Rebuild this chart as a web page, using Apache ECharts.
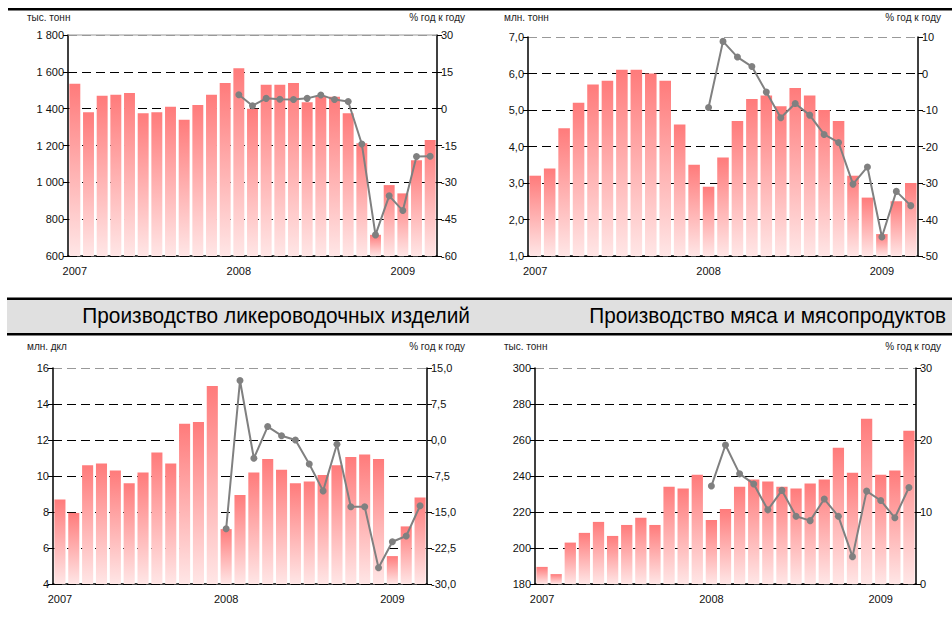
<!DOCTYPE html>
<html><head><meta charset="utf-8">
<script src="https://cdn.jsdelivr.net/npm/echarts@6/dist/echarts.min.js"></script>
<style>html,body{margin:0;padding:0;background:#fff}#c{width:952px;height:620px}</style>
</head><body><div id="c"></div>
<script>
// Categories: months Jan 2007 .. Mar 2009
const months = [];
for (const y of [2007, 2008, 2009]) for (let m = 1; m <= 12; m++) { if (y === 2009 && m > 3) break; months.push(y + '-' + (m < 10 ? '0' + m : m)); }
const yearTicks = ['2007', '2008', '2009'];

// Panel 1 (top-left): тыс. тонн, % год к году
const p1Bars = [1535,1380,1470,1475,1485,1375,1380,1410,1340,1420,1475,1540,
                1620,1400,1530,1530,1540,1435,1465,1465,1375,1212,715,985,940,1120,1230];
const p1Line = [null,null,null,null,null,null,null,null,null,null,null,null,
                5.7,1.2,4.2,3.8,3.7,4.2,5.6,3.7,2.9,-14.4,-51.4,-35.5,-41.5,-19.5,-19.4];
// Panel 2 (top-right): млн. тонн
const p2Bars = [3.2,3.4,4.5,5.2,5.7,5.8,6.1,6.1,6.0,5.8,4.6,3.5,
                2.9,3.7,4.7,5.3,5.4,5.1,5.6,5.4,5.0,4.7,3.2,2.6,1.6,2.5,3.0];
const p2Line = [null,null,null,null,null,null,null,null,null,null,null,null,
                -9.3,8.8,4.5,1.9,-5.1,-12.1,-8.2,-11.4,-16.7,-18.9,-30.3,-25.6,-44.8,-32.3,-36.2];
// Panel 3 (bottom-left): Производство ликероводочных изделий, млн. дкл
const p3Bars = [8.7,7.95,10.6,10.7,10.3,9.6,10.2,11.3,10.7,12.9,13.0,15.0,
                7.05,8.95,10.2,10.95,10.35,9.6,9.7,10.05,10.6,11.05,11.2,10.95,5.55,7.2,8.8];
const p3Line = [null,null,null,null,null,null,null,null,null,null,null,null,
                -18.5,12.4,-3.8,2.8,0.9,0.0,-5.0,-10.6,-0.9,-13.9,-13.9,-26.6,-21.2,-20.0,-13.7];
// Panel 4 (bottom-right): Производство мяса и мясопродуктов, тыс. тонн
const p4Bars = [189.5,185.5,203,208.4,214.5,206.7,212.8,216.8,212.8,234,233,240.7,
                215.6,221.7,234,238,237,234,233,235.8,238,255.7,241.8,271.8,240.7,243,265.1];
const p4Line = [null,null,null,null,null,null,null,null,null,null,null,null,
                13.6,19.3,15.3,13.9,10.3,13.0,9.4,8.8,11.8,9.4,3.8,12.9,11.6,9.2,13.4];

const titles = ['Производство ликероводочных изделий', 'Производство мяса и мясопродуктов'];
const unitsLeft = ['тыс. тонн', 'млн. тонн', 'млн. дкл', 'тыс. тонн'];
const unitRight = '% год к году';

const FONT = 'Liberation Sans, Arial, sans-serif';
const grids = [
  {left: 68, top: 35, width: 369, height: 221},
  {left: 528, top: 37, width: 390, height: 219},
  {left: 53, top: 368, width: 374, height: 216},
  {left: 535, top: 368, width: 381, height: 216}
];
const leftCfg = [
  {min: 600, max: 1800, interval: 200, fmt: v => String(v).replace(/\B(?=(\d{3})+(?!\d))/g, ' ')},
  {min: 1, max: 7, interval: 1, fmt: v => v.toFixed(1).replace('.', ',')},
  {min: 4, max: 16, interval: 2, fmt: v => String(v)},
  {min: 180, max: 300, interval: 20, fmt: v => String(v)}
];
const rightCfg = [
  {min: -60, max: 30, interval: 15, fmt: v => String(v)},
  {min: -50, max: 10, interval: 10, fmt: v => String(v)},
  {min: -30, max: 15, interval: 7.5, fmt: v => v.toFixed(1).replace('.', ',')},
  {min: 0, max: 30, interval: 10, fmt: v => String(v)}
];
const barsData = [p1Bars, p2Bars, p3Bars, p4Bars];
const lineData = [p1Line, p2Line, p3Line, p4Line];

const xAxis = [], yAxis = [], series = [];
const barColor = new echarts.graphic.LinearGradient(0, 0, 0, 1, [
  {offset: 0, color: '#ff7b7b'}, {offset: 1, color: '#ffe6e6'}]);
for (let i = 0; i < 4; i++) {
  xAxis.push({
    type: 'category', gridIndex: i, data: months, boundaryGap: true,
    axisLine: {onZero: false, lineStyle: {color: '#000', width: 1.5}},
    axisTick: {show: false},
    axisLabel: {
      interval: (idx) => idx % 12 === 0, margin: 9,
      color: '#111', fontSize: 11, fontFamily: FONT,
      formatter: (v, idx) => yearTicks[Math.floor(idx / 12)]
    },
    splitLine: {show: false}
  });
  const L = leftCfg[i], R = rightCfg[i];
  const nL = Math.round((L.max - L.min) / L.interval) + 1;
  const cols = [];
  for (let k = 0; k < nL; k++) cols.push(k === nL - 1 ? '#999' : '#000');
  yAxis.push({
    type: 'value', gridIndex: i, position: 'left', min: L.min, max: L.max, interval: L.interval,
    axisLine: {show: true, lineStyle: {color: '#000', width: 1.5}},
    axisTick: {show: true, length: 5, lineStyle: {color: '#000'}},
    axisLabel: {color: '#111', fontSize: 11, fontFamily: FONT, margin: 4, formatter: L.fmt},
    splitLine: {show: true, lineStyle: {color: cols, type: [9, 5], width: 1}}
  });
  yAxis.push({
    type: 'value', gridIndex: i, position: 'right', min: R.min, max: R.max, interval: R.interval,
    axisLine: {show: true, lineStyle: {color: '#000', width: 1.5}},
    axisTick: {show: true, length: 5, lineStyle: {color: '#000'}},
    axisLabel: {color: '#111', fontSize: 11, fontFamily: FONT, margin: 4, formatter: R.fmt},
    splitLine: {show: false}
  });
  series.push({
    type: 'bar', xAxisIndex: i, yAxisIndex: 2 * i, data: barsData[i],
    barCategoryGap: '20%', itemStyle: {color: barColor}, silent: true
  });
  series.push({
    type: 'line', xAxisIndex: i, yAxisIndex: 2 * i + 1, data: lineData[i],
    symbol: 'circle', symbolSize: 7, showSymbol: true,
    lineStyle: {color: '#808080', width: 2}, itemStyle: {color: '#808080'}, z: 5
  });
}

// Narrow banner titles: regular sans scaled horizontally to the reference width
const TFONT = '22px "Liberation Sans", Arial, sans-serif';
const ctx = document.createElement('canvas').getContext('2d');
ctx.font = TFONT;
const titleRight = [470, 946], titleWidth = [388, 357];
const graphic = [
  {type: 'rect', shape: {x: 8, y: 8, width: 944, height: 2.5}, style: {fill: '#000'}},
  {type: 'rect', shape: {x: 7, y: 300, width: 945, height: 33}, style: {fill: '#e0e0e0'}},
  {type: 'rect', shape: {x: 7, y: 297.5, width: 945, height: 2.5}, style: {fill: '#000'}},
  {type: 'rect', shape: {x: 7, y: 333, width: 945, height: 2.5}, style: {fill: '#000'}}
];
for (let t = 0; t < 2; t++) {
  const w = ctx.measureText(titles[t]).width || titleWidth[t];
  graphic.push({type: 'text', x: titleRight[t], y: 316, scaleX: titleWidth[t] / w,
    style: {text: titles[t], fill: '#000', font: TFONT, textAlign: 'right', textVerticalAlign: 'middle'}});
}
const unitPos = [[27, 17, 465, 17], [504, 17, 941, 17], [27, 346, 465, 346], [504, 346, 941, 346]];
for (let i = 0; i < 4; i++) {
  const p = unitPos[i];
  graphic.push({type: 'text', x: p[0], y: p[1], style: {text: unitsLeft[i], fill: '#222', font: '10px Liberation Sans, Arial, sans-serif', textAlign: 'left', textVerticalAlign: 'middle'}});
  graphic.push({type: 'text', x: p[2], y: p[3], style: {text: unitRight, fill: '#222', font: '10px Liberation Sans, Arial, sans-serif', textAlign: 'right', textVerticalAlign: 'middle'}});
}
// solid grey top line of the first panel
graphic.push({type: 'line', shape: {x1: 68, y1: 35, x2: 437, y2: 35}, style: {stroke: '#999', lineWidth: 1}, z: 10});

const chart = echarts.init(document.getElementById('c'), null, {renderer: 'svg'});
chart.setOption({animation: false, grid: grids, xAxis, yAxis, series, graphic});
</script></body></html>
